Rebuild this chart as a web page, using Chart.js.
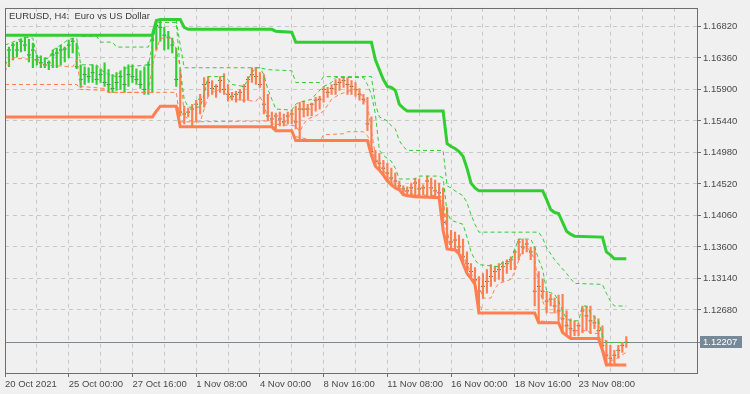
<!DOCTYPE html>
<html>
<head>
<meta charset="utf-8">
<title>EURUSD H4</title>
<script src="https://cdn.jsdelivr.net/npm/chart.js@4.4.0/dist/chart.umd.min.js"></script>
<style>
  html, body { margin: 0; padding: 0; background: #f0f0f0; }
  canvas { display: block; }
</style>
</head>
<body>
<canvas id="c" width="750" height="394"></canvas>
<script>
var symbolTitle = "EURUSD, H4:  Euro vs US Dollar";

// one label every 16 H4 bars, starting at bar 0
var timeLabels = ["20 Oct 2021", "25 Oct 00:00", "27 Oct 16:00", "1 Nov 08:00", "4 Nov 00:00",
  "8 Nov 16:00", "11 Nov 08:00", "16 Nov 00:00", "18 Nov 16:00", "23 Nov 08:00"];
var labelEvery = 16;

var priceTicks = [1.12680, 1.13140, 1.13600, 1.14060, 1.14520, 1.14980, 1.15440, 1.15900, 1.16360, 1.16820];

var highs = [
  1.16489, 1.16518, 1.16576, 1.16590, 1.16633, 1.16662, 1.16633, 1.16576, 1.16403, 1.16389,
  1.16360, 1.16317, 1.16475, 1.16504, 1.16547, 1.16518, 1.16619, 1.16648, 1.16576, 1.16259,
  1.16231, 1.16216, 1.16259, 1.16245, 1.16202, 1.16288, 1.16188, 1.16116, 1.16144, 1.16173,
  1.16231, 1.16259, 1.16259, 1.16202, 1.16173, 1.16231, 1.16303, 1.16691, 1.16906, 1.16921,
  1.16806, 1.16748, 1.16648, 1.16504, 1.16188, 1.15656, 1.15627, 1.15684, 1.15742, 1.15828,
  1.16073, 1.16087, 1.16029, 1.15972, 1.16087, 1.16130, 1.15972, 1.15857, 1.15871, 1.15900,
  1.15972, 1.16087, 1.16216, 1.16216, 1.16144, 1.16116, 1.15828, 1.15569, 1.15555, 1.15569,
  1.15541, 1.15569, 1.15598, 1.15656, 1.15713, 1.15728, 1.15684, 1.15699, 1.15785, 1.15799,
  1.15943, 1.15929, 1.15972, 1.16044, 1.16058, 1.16073, 1.16073, 1.16029, 1.16001, 1.15914,
  1.15828, 1.15785, 1.15498, 1.15009, 1.14966, 1.14865, 1.14822, 1.14750, 1.14678, 1.14563,
  1.14491, 1.14477, 1.14534, 1.14606, 1.14592, 1.14506, 1.14635, 1.14606, 1.14578, 1.14534,
  1.14463, 1.14175, 1.13844, 1.13816, 1.13773, 1.13715, 1.13528, 1.13356, 1.13298, 1.13169,
  1.13212, 1.13269, 1.13341, 1.13313, 1.13356, 1.13384, 1.13413, 1.13456, 1.13557, 1.13715,
  1.13715, 1.13701, 1.13600, 1.13600, 1.13241, 1.13126, 1.12953, 1.12910, 1.12853, 1.12896,
  1.12910, 1.12666, 1.12551, 1.12522, 1.12493, 1.12738, 1.12738, 1.12738, 1.12594, 1.12551,
  1.12450, 1.12234, 1.12163, 1.12091, 1.12163, 1.12206, 1.12292
];
var lows = [
  1.16231, 1.16231, 1.16331, 1.16374, 1.16446, 1.16461, 1.16303, 1.16216, 1.16259, 1.16216,
  1.16216, 1.16188, 1.16216, 1.16216, 1.16259, 1.16303, 1.16360, 1.16432, 1.16202, 1.15929,
  1.15972, 1.16001, 1.16001, 1.15972, 1.16001, 1.15943, 1.15857, 1.15857, 1.15886, 1.15900,
  1.15857, 1.15943, 1.16001, 1.15972, 1.15914, 1.15828, 1.15828, 1.15857, 1.16475, 1.16604,
  1.16475, 1.16489, 1.16432, 1.15943, 1.15512, 1.15397, 1.15498, 1.15354, 1.15440, 1.15541,
  1.15641, 1.15799, 1.15828, 1.15785, 1.15857, 1.15828, 1.15728, 1.15742, 1.15713, 1.15742,
  1.15713, 1.15742, 1.16001, 1.15972, 1.15929, 1.15541, 1.15440, 1.15368, 1.15296, 1.15368,
  1.15368, 1.15397, 1.15397, 1.15325, 1.15153, 1.15498, 1.15512, 1.15512, 1.15584, 1.15613,
  1.15713, 1.15785, 1.15828, 1.15828, 1.15886, 1.15929, 1.15828, 1.15828, 1.15799, 1.15742,
  1.15684, 1.15296, 1.14937, 1.14779, 1.14721, 1.14649, 1.14563, 1.14506, 1.14463, 1.14434,
  1.14362, 1.14348, 1.14348, 1.14333, 1.14348, 1.14362, 1.14333, 1.14348, 1.14333, 1.14319,
  1.13844, 1.13571, 1.13557, 1.13557, 1.13499, 1.13356, 1.13212, 1.13140, 1.13054, 1.12637,
  1.12853, 1.12924, 1.13025, 1.13097, 1.13126, 1.13097, 1.13212, 1.13269, 1.13269, 1.13413,
  1.13499, 1.13528, 1.13413, 1.12738, 1.12493, 1.12838, 1.12637, 1.12738, 1.12637, 1.12522,
  1.12349, 1.12306, 1.12263, 1.12306, 1.12306, 1.12349, 1.12378, 1.12335, 1.12407, 1.12278,
  1.12091, 1.11875, 1.11875, 1.11904, 1.11976, 1.12062, 1.12134
];
var closes = [
  1.16288, 1.16475, 1.16547, 1.16475, 1.16604, 1.16547, 1.16403, 1.16475, 1.16331, 1.16288,
  1.16259, 1.16288, 1.16403, 1.16432, 1.16475, 1.16489, 1.16547, 1.16604, 1.16231, 1.16044,
  1.16116, 1.16087, 1.16144, 1.16044, 1.16116, 1.16001, 1.15972, 1.15914, 1.16001, 1.16087,
  1.15972, 1.16116, 1.16087, 1.16044, 1.15972, 1.15900, 1.16259, 1.16619, 1.16834, 1.16806,
  1.16691, 1.16662, 1.16547, 1.16044, 1.15569, 1.15541, 1.15569, 1.15613, 1.15684, 1.15756,
  1.15972, 1.16001, 1.15914, 1.15943, 1.16029, 1.15900, 1.15828, 1.15799, 1.15828, 1.15857,
  1.15943, 1.16044, 1.16116, 1.16087, 1.15972, 1.15684, 1.15512, 1.15469, 1.15512, 1.15469,
  1.15426, 1.15512, 1.15541, 1.15426, 1.15613, 1.15613, 1.15613, 1.15684, 1.15742, 1.15756,
  1.15900, 1.15857, 1.15914, 1.15972, 1.16001, 1.16029, 1.15972, 1.15943, 1.15900, 1.15828,
  1.15756, 1.15397, 1.14994, 1.14851, 1.14822, 1.14750, 1.14678, 1.14606, 1.14563, 1.14491,
  1.14448, 1.14419, 1.14463, 1.14534, 1.14448, 1.14463, 1.14563, 1.14463, 1.14419, 1.14391,
  1.13959, 1.13744, 1.13672, 1.13701, 1.13600, 1.13456, 1.13356, 1.13241, 1.13126, 1.12953,
  1.13025, 1.13097, 1.13169, 1.13241, 1.13269, 1.13313, 1.13356, 1.13413, 1.13528, 1.13672,
  1.13600, 1.13643, 1.13528, 1.12953, 1.13025, 1.12953, 1.12809, 1.12838, 1.12738, 1.12666,
  1.12551, 1.12450, 1.12407, 1.12378, 1.12450, 1.12666, 1.12594, 1.12522, 1.12493, 1.12378,
  1.12163, 1.12019, 1.11976, 1.12019, 1.12091, 1.12163, 1.12207
];

// bars from this index on are drawn in the down colour
var firstDownBar = 44;

// channel lines: [bar index, price] at the points where they change
var upperSlow = [[0,1.16691],[37,1.16691],[38,1.16906],[39,1.16921],[44,1.16921],[45,1.16806],[46,1.16777],
  [67,1.16777],[68,1.16748],[72,1.16734],[73,1.16590],[92,1.16590],[93,1.16331],[94,1.16188],[95,1.16044],
  [96,1.15943],[97,1.15929],[98,1.15886],[99,1.15684],[100,1.15627],[101,1.15584],[110,1.15584],[111,1.15109],
  [112,1.15066],[113,1.15038],[114,1.14994],[115,1.14923],[116,1.14750],[117,1.14534],[118,1.14463],
  [119,1.14419],[135,1.14419],[136,1.14290],[137,1.14146],[138,1.14103],[139,1.14089],[140,1.13959],
  [141,1.13830],[142,1.13787],[143,1.13758],[150,1.13744],[151,1.13528],[152,1.13485],[153,1.13427],[156,1.13427]];
var lowerSlow = [[0,1.15498],[37,1.15498],[38,1.15584],[39,1.15656],[43,1.15656],[44,1.15354],[67,1.15354],
  [68,1.15296],[72,1.15296],[73,1.15153],[91,1.15153],[92,1.14937],[93,1.14779],[94,1.14721],[95,1.14649],
  [96,1.14563],[97,1.14506],[98,1.14463],[99,1.14434],[100,1.14362],[101,1.14348],[103,1.14333],[109,1.14319],
  [110,1.13844],[111,1.13571],[113,1.13557],[114,1.13499],[115,1.13356],[116,1.13212],[117,1.13140],
  [118,1.13054],[119,1.12637],[133,1.12637],[134,1.12493],[139,1.12493],[140,1.12349],[141,1.12306],
  [142,1.12263],[149,1.12263],[150,1.12091],[151,1.11875],[156,1.11875]];
var upperMid = [[0,1.16691],[18,1.16691],[19,1.16676],[23,1.16676],[24,1.16590],[27,1.16590],[28,1.16518],
  [36,1.16518],[37,1.16691],[38,1.16906],[43,1.16906],[44,1.16547],[45,1.16216],[64,1.16216],[66,1.16188],
  [72,1.16173],[73,1.16001],[79,1.16001],[80,1.16087],[92,1.16087],[93,1.15684],[94,1.15498],[96,1.15440],
  [97,1.15368],[98,1.15325],[99,1.15153],[100,1.15066],[101,1.15009],[110,1.15009],[111,1.14491],[112,1.14463],
  [113,1.14419],[115,1.14348],[116,1.14247],[117,1.14074],[118,1.13931],[119,1.13816],[134,1.13816],
  [135,1.13729],[136,1.13586],[138,1.13413],[141,1.13212],[143,1.13068],[150,1.13054],[151,1.12924],
  [152,1.12809],[153,1.12738],[156,1.12738]];
var upperFast = [[0,1.16547],[5,1.16662],[7,1.16648],[8,1.16374],[11,1.16346],[12,1.16475],[14,1.16547],
  [16,1.16633],[18,1.16648],[19,1.16259],[23,1.16259],[24,1.16188],[26,1.16116],[28,1.16087],[29,1.16159],
  [31,1.16231],[36,1.16259],[37,1.16547],[38,1.16878],[43,1.16878],[44,1.16188],[45,1.15756],[46,1.15641],
  [49,1.15641],[50,1.15828],[51,1.16087],[55,1.16087],[56,1.16044],[57,1.15972],[60,1.15943],[61,1.16044],
  [62,1.16144],[63,1.16216],[64,1.16216],[65,1.16116],[66,1.15900],[67,1.15756],[68,1.15613],[72,1.15598],
  [73,1.15684],[74,1.15713],[77,1.15756],[78,1.15828],[80,1.15943],[82,1.16001],[83,1.16073],[90,1.16073],
  [91,1.15972],[92,1.15828],[93,1.15541],[94,1.15009],[95,1.14937],[97,1.14851],[98,1.14750],[99,1.14592],
  [103,1.14592],[104,1.14635],[109,1.14635],[110,1.14606],[111,1.14103],[112,1.13988],[115,1.13931],
  [116,1.13744],[117,1.13528],[118,1.13413],[119,1.13341],[124,1.13313],[125,1.13384],[127,1.13384],
  [128,1.13571],[129,1.13715],[132,1.13715],[133,1.13600],[134,1.13413],[135,1.13269],[136,1.12953],
  [138,1.12910],[139,1.12809],[140,1.12666],[141,1.12551],[142,1.12522],[144,1.12522],[145,1.12738],
  [146,1.12738],[147,1.12637],[149,1.12522],[150,1.12306],[151,1.12206],[156,1.12206]];
var lowerFast = [[0,1.16159],[1,1.16288],[2,1.16360],[8,1.16331],[9,1.16259],[17,1.16231],[18,1.16331],
  [19,1.15943],[25,1.15914],[26,1.15857],[36,1.15857],[37,1.16231],[38,1.16475],[39,1.16648],[42,1.16648],
  [43,1.16475],[44,1.16216],[45,1.15512],[47,1.15426],[49,1.15426],[50,1.15613],[51,1.15799],[52,1.15857],
  [54,1.15900],[55,1.15857],[56,1.15799],[57,1.15756],[63,1.15728],[64,1.15799],[65,1.15684],[66,1.15469],
  [67,1.15397],[73,1.15368],[74,1.15282],[75,1.15397],[76,1.15469],[78,1.15512],[80,1.15584],[82,1.15756],
  [84,1.15828],[86,1.15871],[88,1.15900],[89,1.15857],[90,1.15756],[91,1.15684],[92,1.15296],[93,1.14937],
  [94,1.14779],[95,1.14721],[96,1.14649],[97,1.14563],[98,1.14506],[99,1.14463],[100,1.14434],[101,1.14391],
  [103,1.14362],[109,1.14348],[110,1.14319],[111,1.13844],[112,1.13571],[114,1.13557],[115,1.13499],
  [116,1.13356],[117,1.13212],[118,1.13140],[119,1.13054],[120,1.12853],[122,1.12853],[123,1.12996],
  [124,1.13068],[127,1.13126],[128,1.13241],[129,1.13413],[130,1.13571],[131,1.13600],[132,1.13528],
  [133,1.13413],[134,1.13039],[135,1.12809],[136,1.12666],[137,1.12637],[139,1.12637],[140,1.12522],
  [141,1.12493],[142,1.12378],[146,1.12378],[147,1.12349],[149,1.12335],[150,1.12163],[151,1.11947],
  [153,1.11947],[154,1.11990],[156,1.12062]];
var lowerMid = [[0,1.15972],[18,1.15972],[19,1.15900],[25,1.15886],[26,1.15857],[43,1.15857],[44,1.15426],
  [45,1.15426],[67,1.15440],[68,1.15296],[72,1.15296],[73,1.15210],[79,1.15138],[80,1.15239],[85,1.15253],
  [86,1.15282],[90,1.15282],[91,1.15224],[92,1.15109],[93,1.14822],[94,1.14750],[95,1.14678],[96,1.14606],
  [97,1.14534],[98,1.14477],[99,1.14448],[100,1.14391],[101,1.14362],[103,1.14348],[109,1.14333],
  [110,1.14247],[111,1.13744],[112,1.13571],[114,1.13557],[115,1.13456],[116,1.13313],[117,1.13183],
  [118,1.13097],[119,1.12809],[120,1.12637],[133,1.12637],[134,1.12522],[139,1.12493],[140,1.12378],
  [141,1.12306],[142,1.12278],[149,1.12263],[150,1.12119],[151,1.11904],[156,1.11875]];

var upColor = "#32cd32";
var downColor = "#ff7f50";
var tickTextColor = "#4a4a4a";
var frameColor = "#6e6e6e";
var gridColor = "#c6c6c6";

function pts(arr) {
  return arr.map(function (p) { return { x: p[0], y: p[1] }; });
}

function channel(label, arr, color, width, dash, order) {
  return {
    type: "line",
    label: label,
    data: pts(arr),
    borderColor: color,
    borderWidth: width,
    borderDash: dash,
    pointRadius: 0,
    tension: 0,
    fill: false,
    order: order
  };
}

var lastPrice = closes[closes.length - 1];

var decor = {
  id: "decor",
  beforeDatasetsDraw: function (chart) {
    var ctx = chart.ctx, a = chart.chartArea;
    var py = Math.round(chart.scales.y.getPixelForValue(lastPrice)) + 0.5;
    ctx.save();
    ctx.strokeStyle = "#778899";
    ctx.lineWidth = 1;
    ctx.beginPath();
    ctx.moveTo(a.left, py);
    ctx.lineTo(a.right + 3, py);
    ctx.stroke();
    ctx.restore();
  },
  afterDatasetsDraw: function (chart) {
    var ctx = chart.ctx, a = chart.chartArea;
    var py = Math.round(chart.scales.y.getPixelForValue(lastPrice)) + 0.5;
    ctx.save();
    // frame
    ctx.strokeStyle = frameColor;
    ctx.lineWidth = 1;
    ctx.strokeRect(Math.round(a.left) + 0.5, Math.round(a.top) + 0.5,
      Math.round(a.right - a.left), Math.round(a.bottom - a.top));
    // last price box
    ctx.fillStyle = "#778899";
    ctx.fillRect(a.right + 3, py - 6.5, 42, 12);
    ctx.fillStyle = "#ffffff";
    ctx.font = '9.5px "Liberation Sans", Arial, sans-serif';
    ctx.textBaseline = "middle";
    ctx.textAlign = "left";
    ctx.fillText(lastPrice.toFixed(5), a.right + 6, py);
    // title
    ctx.fillStyle = "#3c3c3c";
    ctx.font = '9.5px "Liberation Sans", Arial, sans-serif';
    ctx.fillText(symbolTitle, a.left + 4, a.top + 9);
    ctx.restore();
  }
};

Chart.defaults.font.family = '"Liberation Sans", Arial, sans-serif';
Chart.defaults.font.size = 9.5;
Chart.defaults.color = tickTextColor;

var config = {
  type: "bar",
  data: {
    datasets: [
      channel("upper slow", upperSlow, upColor, 3, [], 0),
      channel("lower slow", lowerSlow, downColor, 3, [], 0),
      channel("upper mid", upperMid, upColor, 1, [4, 3], 1),
      channel("upper fast", upperFast, upColor, 1, [4, 3], 1),
      channel("lower fast", lowerFast, downColor, 1, [4, 3], 1),
      channel("lower mid", lowerMid, downColor, 1, [4, 3], 1),
      {
        type: "bar",
        label: "range",
        data: highs.map(function (h, i) { return { x: i, y: [lows[i], h] }; }),
        backgroundColor: function (c) { return c.dataIndex >= firstDownBar ? downColor : upColor; },
        borderWidth: 0,
        barThickness: 1.5,
        order: 2
      },
      {
        type: "line",
        label: "close",
        data: closes.map(function (v, i) { return { x: i, y: v }; }),
        showLine: false,
        pointStyle: "line",
        pointRadius: 1.8,
        pointBorderWidth: 1,
        pointBorderColor: "#0a5a0a",
        order: 3
      }
    ]
  },
  options: {
    responsive: false,
    animation: false,
    events: [],
    layout: { padding: { left: 2, top: 2, right: 0, bottom: 0 } },
    plugins: { legend: { display: false }, tooltip: { enabled: false } },
    scales: {
      x: {
        type: "linear",
        min: 0,
        max: 173.75,
        offset: false,
        afterBuildTicks: function (s) {
          var t = [];
          for (var v = 0; v <= s.max; v += labelEvery / 2) t.push({ value: v });
          s.ticks = t;
        },
        afterFit: function (s) { s.height = 21; },
        grid: {
          offset: false,
          color: gridColor,
          tickLength: 4,
          tickBorderDash: [],
          tickColor: function (c) {
            var v = c.tick ? c.tick.value : -1;
            return (v % labelEvery === 0 && v / labelEvery < timeLabels.length) ? frameColor : "rgba(0,0,0,0)";
          }
        },
        border: { display: false, dash: [4, 4] },
        ticks: {
          autoSkip: false,
          maxRotation: 0,
          align: "start",
          padding: 2,
          callback: function (v) {
            if (v % labelEvery !== 0) return "";
            return timeLabels[v / labelEvery] || "";
          }
        }
      },
      y: {
        position: "right",
        min: 1.11760,
        max: 1.17093,
        afterBuildTicks: function (s) {
          s.ticks = priceTicks.map(function (v) { return { value: v }; });
        },
        afterFit: function (s) { s.width = 53; },
        grid: { color: gridColor, tickLength: 4, tickColor: frameColor, tickBorderDash: [] },
        border: { display: false, dash: [4, 4] },
        ticks: {
          padding: 2,
          callback: function (v) { return Number(v).toFixed(5); }
        }
      }
    }
  },
  plugins: [decor]
};

new Chart(document.getElementById("c").getContext("2d"), config);
</script>
</body>
</html>
